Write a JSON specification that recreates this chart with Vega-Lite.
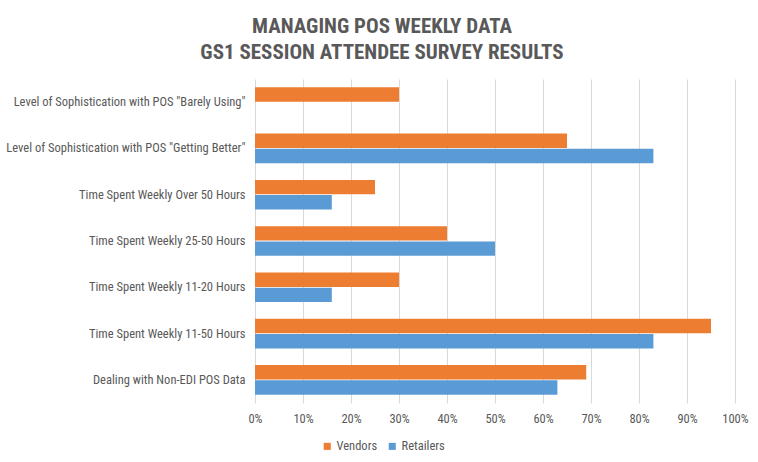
{
  "$schema": "https://vega.github.io/schema/vega-lite/v6.json",
  "autosize": {"type": "none"},
  "width": 480,
  "height": 324,
  "padding": {"left": 255, "top": 79, "right": 23, "bottom": 59},
  "background": "white",
  "title": {
    "text": ["MANAGING POS WEEKLY DATA", "GS1 SESSION ATTENDEE SURVEY RESULTS"],
    "anchor": "middle",
    "frame": "group",
    "dx": -113,
    "offset": 16,
    "font": "Liberation Sans Narrow, Roboto Condensed, Liberation Sans",
    "fontSize": 21,
    "fontWeight": "bold",
    "color": "#595959",
    "lineHeight": 26
  },
  "data": {
    "values": [
      {"category": "Level of Sophistication with POS \"Barely Using\"", "series": "Vendors", "value": 0.30},
      {"category": "Level of Sophistication with POS \"Getting Better\"", "series": "Vendors", "value": 0.65},
      {"category": "Level of Sophistication with POS \"Getting Better\"", "series": "Retailers", "value": 0.83},
      {"category": "Time Spent Weekly Over 50 Hours", "series": "Vendors", "value": 0.25},
      {"category": "Time Spent Weekly Over 50 Hours", "series": "Retailers", "value": 0.16},
      {"category": "Time Spent Weekly 25-50 Hours", "series": "Vendors", "value": 0.40},
      {"category": "Time Spent Weekly 25-50 Hours", "series": "Retailers", "value": 0.50},
      {"category": "Time Spent Weekly 11-20 Hours", "series": "Vendors", "value": 0.30},
      {"category": "Time Spent Weekly 11-20 Hours", "series": "Retailers", "value": 0.16},
      {"category": "Time Spent Weekly 11-50 Hours", "series": "Vendors", "value": 0.95},
      {"category": "Time Spent Weekly 11-50 Hours", "series": "Retailers", "value": 0.83},
      {"category": "Dealing with Non-EDI POS Data", "series": "Vendors", "value": 0.69},
      {"category": "Dealing with Non-EDI POS Data", "series": "Retailers", "value": 0.63}
    ]
  },
  "mark": {"type": "bar"},
  "encoding": {
    "y": {
      "field": "category",
      "type": "nominal",
      "sort": [
        "Level of Sophistication with POS \"Barely Using\"",
        "Level of Sophistication with POS \"Getting Better\"",
        "Time Spent Weekly Over 50 Hours",
        "Time Spent Weekly 25-50 Hours",
        "Time Spent Weekly 11-20 Hours",
        "Time Spent Weekly 11-50 Hours",
        "Dealing with Non-EDI POS Data"
      ],
      "scale": {"paddingInner": 0.36, "paddingOuter": 0.18},
      "axis": {
        "title": null,
        "ticks": false,
        "domain": false,
        "labelPadding": 10,
        "labelFont": "Liberation Sans Narrow, Roboto Condensed, Liberation Sans",
        "labelFontSize": 12.5,
        "labelColor": "#595959",
        "labelLimit": 300
      }
    },
    "yOffset": {
      "field": "series",
      "type": "nominal",
      "sort": ["Vendors", "Retailers"],
      "scale": {"paddingInner": 0.05}
    },
    "x": {
      "field": "value",
      "type": "quantitative",
      "scale": {"domain": [0, 1], "nice": false},
      "axis": {
        "title": null,
        "format": ".0%",
        "values": [0, 0.1, 0.2, 0.3, 0.4, 0.5, 0.6, 0.7, 0.8, 0.9, 1],
        "labelOverlap": false,
        "labelFlush": false,
        "ticks": false,
        "domain": false,
        "grid": true,
        "gridColor": "#d9d9d9",
        "gridWidth": 1,
        "labelPadding": 9,
        "labelFont": "Liberation Sans Narrow, Roboto Condensed, Liberation Sans",
        "labelFontSize": 12.5,
        "labelColor": "#595959"
      }
    },
    "color": {
      "field": "series",
      "type": "nominal",
      "sort": ["Vendors", "Retailers"],
      "scale": {"domain": ["Vendors", "Retailers"], "range": ["#ED7D31", "#5B9BD5"]},
      "legend": {
        "title": null,
        "orient": "none",
        "direction": "horizontal",
        "legendX": 66,
        "legendY": 361,
        "symbolType": "square",
        "symbolSize": 50,
        "symbolStrokeWidth": 0,
        "labelFont": "Liberation Sans Narrow, Roboto Condensed, Liberation Sans",
        "labelFontSize": 12.5,
        "labelColor": "#595959",
        "columnPadding": 8,
        "labelOffset": 3
      }
    }
  },
  "config": {"view": {"stroke": null}}
}
